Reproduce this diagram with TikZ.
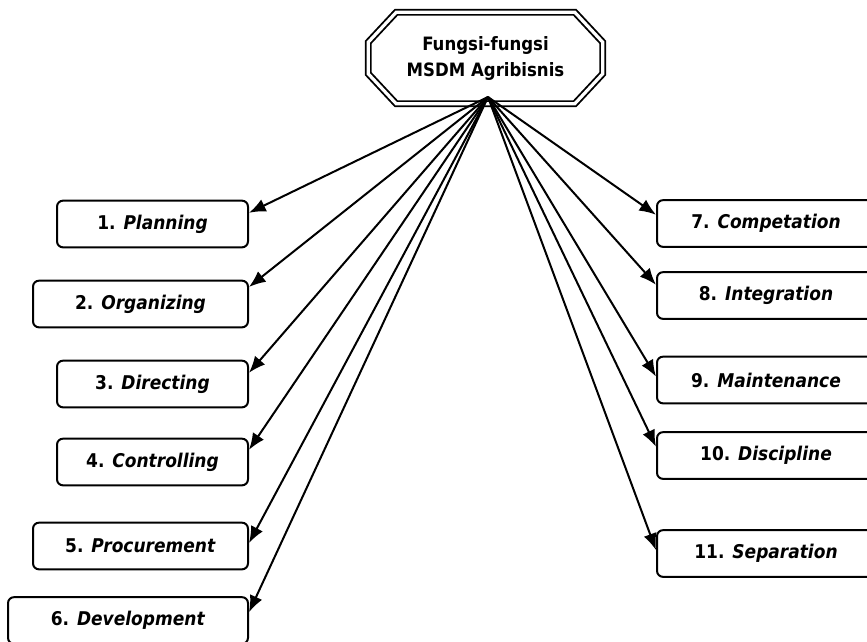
\documentclass[tikz,border=0pt]{standalone}
\usepackage{fontspec}
\setmainfont{DejaVu Sans Condensed}
\usetikzlibrary{arrows.meta,calc}
\begin{document}
\begin{tikzpicture}[x=0.75pt,y=-0.75pt,
  lbl/.style={font=\fontsize{14.2}{17}\selectfont\bfseries},
  fbox/.style={draw,line width=1.5pt,rounded corners=4.5pt,inner sep=0pt,
    minimum height=35pt,lbl},
  arr/.style={line width=1.5pt,-{Latex[length=12.5pt,width=10pt]}},
  octo/.style={draw,double,line width=1.4pt,double distance=2.4pt},
  title/.style={minimum width=175.5pt,minimum height=68.25pt,inner sep=0pt,align=center,
    font=\fontsize{13.8}{19.5}\selectfont\bfseries}]
\useasboundingbox (0,0) rectangle (867,642);
\clip (0,0) rectangle (867,642);
\node[title] (T) at (485.5,58) {Fungsi-fungsi\\MSDM Agribisnis};
\draw[octo] ($(T.north west)+(28,0)$) -- ($(T.north east)+(-28,0)$)
  -- ($(T.north east)+(0,30)$) -- ($(T.south east)+(0,-30)$)
  -- ($(T.south east)+(-28,0)$) -- ($(T.south west)+(28,0)$)
  -- ($(T.south west)+(0,-30)$) -- ($(T.north west)+(0,30)$) -- cycle;
\coordinate (O) at (488,97);
% left boxes
\node[fbox,minimum width=143.25pt] (b1) at (152.5,224) {1. \textit{Planning}};
\node[fbox,minimum width=161.25pt] (b2) at (140.5,304) {2. \textit{Organizing}};
\node[fbox,minimum width=143.25pt] (b3) at (152.5,384) {3. \textit{Directing}};
\node[fbox,minimum width=143.25pt] (b4) at (152.5,462) {4. \textit{Controlling}};
\node[fbox,minimum width=161.25pt] (b5) at (140.5,546) {5. \textit{Procurement}};
\node[fbox,minimum width=180pt] (b6) at (128,620.5) {6. \textit{Development}};
% right boxes
\node[fbox,minimum width=163.5pt] (b7) at (766,223.5) {7. \textit{Competation}};
\node[fbox,minimum width=163.5pt] (b8) at (766,295.5) {8. \textit{Integration}};
\node[fbox,minimum width=163.5pt] (b9) at (766,380) {9. \textit{Maintenance}};
\node[fbox,minimum width=163.5pt] (b10) at (766,455.5) {10. \textit{Discipline}};
\node[fbox,minimum width=163.5pt] (b11) at (766,553.5) {11. \textit{Separation}};
% arrows
\draw[arr] (O) -- ($(b1.north east)!0.27!(b1.south east)$);
\draw[arr] (O) -- ($(b2.north east)!0.15!(b2.south east)$);
\draw[arr] (O) -- ($(b3.north east)!0.27!(b3.south east)$);
\draw[arr] (O) -- ($(b4.north east)!0.25!(b4.south east)$);
\draw[arr] (O) -- ($(b5.north east)!0.44!(b5.south east)$);
\draw[arr] (O) -- ($(b6.north east)!0.33!(b6.south east)$);
\draw[arr] (O) -- ($(b7.north west)!0.32!(b7.south west)$);
\draw[arr] (O) -- ($(b8.north west)!0.28!(b8.south west)$);
\draw[arr] (O) -- ($(b9.north west)!0.43!(b9.south west)$);
\draw[arr] (O) -- ($(b10.north west)!0.32!(b10.south west)$);
\draw[arr] (O) -- ($(b11.north west)!0.43!(b11.south west)$);
\end{tikzpicture}
\end{document}
